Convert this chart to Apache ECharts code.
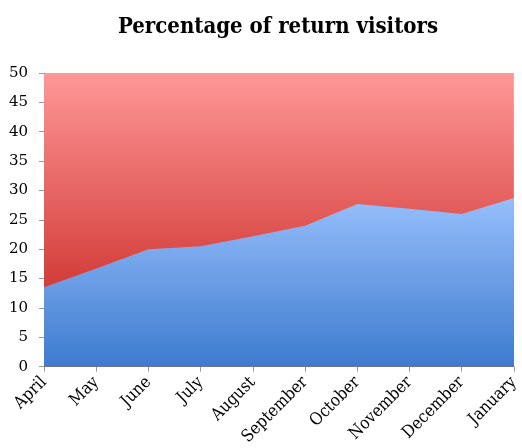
<!DOCTYPE html>
<html>
<head>
<meta charset="utf-8">
<script src="https://cdn.jsdelivr.net/npm/echarts@6/dist/echarts.min.js"></script>
<style>
html, body { margin: 0; padding: 0; background: #fff; }
#chart { width: 522px; height: 448px; }
</style>
</head>
<body>
<div id="chart"></div>
<script>
var months = ['April', 'May', 'June', 'July', 'August', 'September', 'October', 'November', 'December', 'January'];
var returnVisitors = [13.5, 16.7, 20.0, 20.5, 22.2, 24.0, 27.7, 26.9, 26.0, 28.7];
var totalLevel = [50, 50, 50, 50, 50, 50, 50, 50, 50, 50];

var myChart = echarts.init(document.getElementById('chart'));
var serif = '"DejaVu Serif", "Liberation Serif", serif';
var serifNarrow = '"DejaVu Serif Condensed", "DejaVu Serif", serif';

var option = {
    animation: false,
    graphic: [{
        type: 'text',
        x: 278,
        y: 38,
        style: {
            text: 'Percentage of return visitors',
            fontFamily: serifNarrow,
            fontSize: 22,
            fontWeight: 'bold',
            fill: '#000',
            align: 'center',
            verticalAlign: 'bottom'
        }
    }],
    grid: { left: 44, right: 5, top: 73, bottom: 81 },
    xAxis: {
        type: 'category',
        data: months,
        boundaryGap: false,
        axisLine: { lineStyle: { color: '#999' } },
        axisTick: { length: 5, lineStyle: { color: '#999' } },
        axisLabel: {
            rotate: 45,
            interval: 0,
            fontFamily: serifNarrow,
            fontSize: 17,
            color: '#000',
            margin: 13
        }
    },
    yAxis: {
        type: 'value',
        min: 0,
        max: 50,
        interval: 5,
        splitLine: { show: false },
        axisLine: { show: true, lineStyle: { color: '#999' } },
        axisTick: { show: true, length: 5, lineStyle: { color: '#999' } },
        axisLabel: { fontFamily: serif, fontSize: 15, color: '#000', margin: 16 }
    },
    series: [{
        name: 'Total',
        type: 'line',
        data: totalLevel,
        symbol: 'none',
        lineStyle: { width: 0 },
        areaStyle: {
            opacity: 1,
            color: new echarts.graphic.LinearGradient(0, 0, 0, 1, [
                { offset: 0, color: '#FF9797' },
                { offset: 0.7, color: '#D4403C' },
                { offset: 1, color: '#C8302C' }
            ])
        },
        z: 1
    }, {
        name: 'Return visitors',
        type: 'line',
        data: returnVisitors,
        symbol: 'none',
        lineStyle: { width: 0 },
        areaStyle: {
            opacity: 1,
            color: new echarts.graphic.LinearGradient(0, 0, 0, 1, [
                { offset: 0, color: '#96BEFB' },
                { offset: 1, color: '#3D7BCF' }
            ])
        },
        z: 2
    }]
};

myChart.setOption(option);
</script>
</body>
</html>
